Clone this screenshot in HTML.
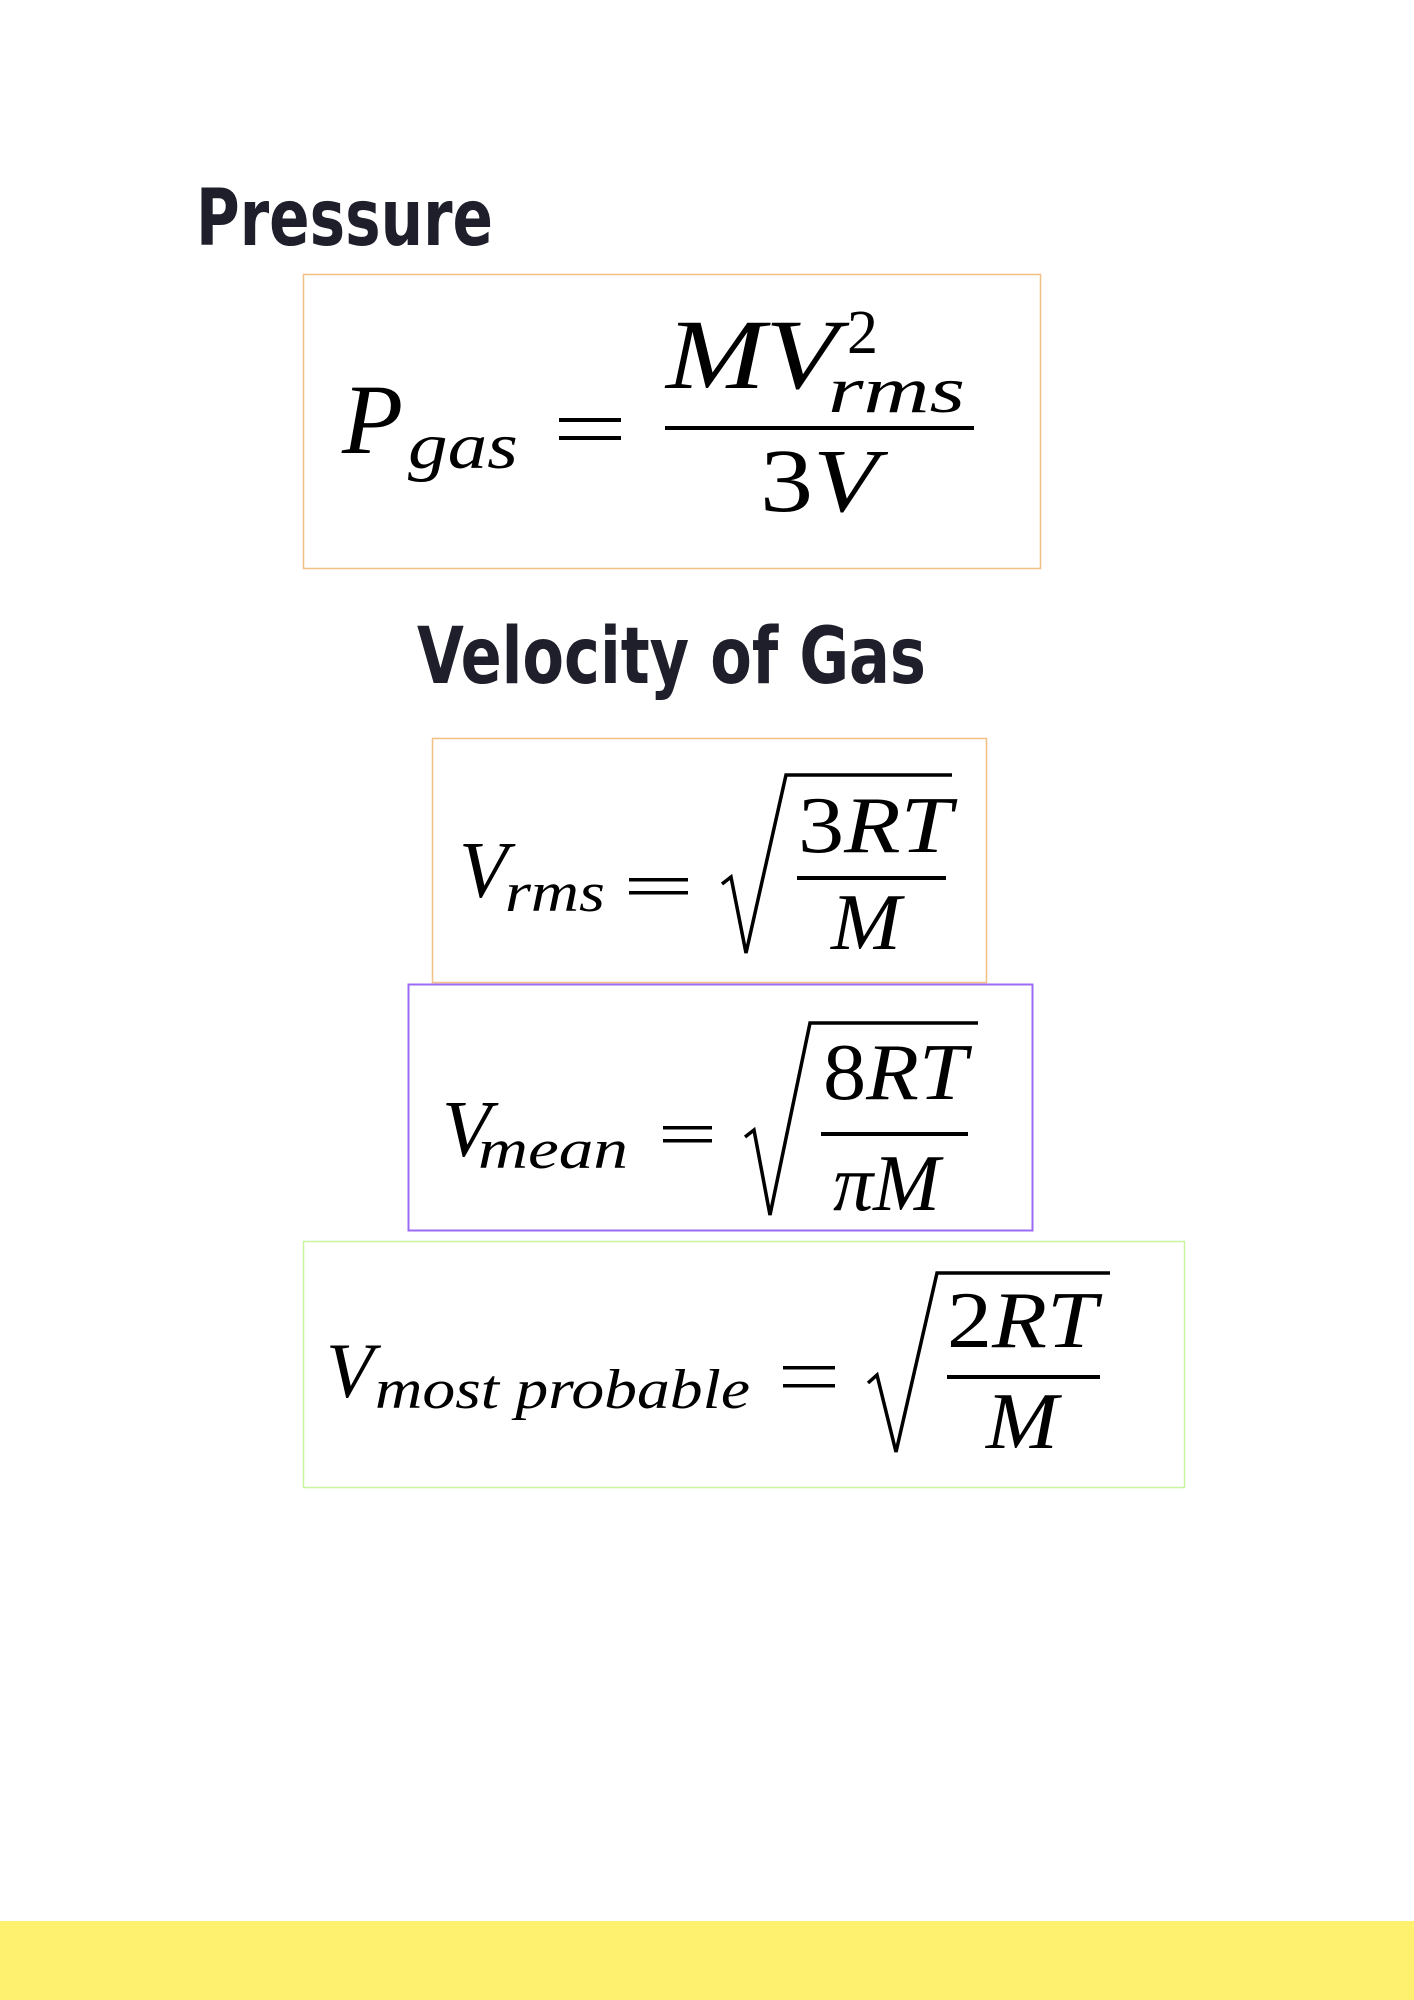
<!DOCTYPE html>
<html><head><meta charset="utf-8"><style>
html,body{margin:0;padding:0;background:#fff;}
svg{display:block;}
.t{font-family:"DejaVu Sans","Liberation Sans",sans-serif;font-weight:bold;fill:#1e1f2b;}
.m{font-family:"Liberation Serif",serif;font-style:italic;fill:#000;}
.n{font-family:"Liberation Serif",serif;fill:#000;}
</style></head><body>
<svg width="1414" height="2000" viewBox="0 0 1414 2000" xmlns="http://www.w3.org/2000/svg">
<rect x="0" y="0" width="1414" height="2000" fill="#fff"/>
<rect x="0" y="1921" width="1414" height="79" fill="#fff170"/>

<text class="t" x="196" y="245" font-size="78" textLength="297" lengthAdjust="spacingAndGlyphs">Pressure</text>
<text class="t" x="417" y="683" font-size="78" textLength="509" lengthAdjust="spacingAndGlyphs">Velocity of Gas</text>

<!-- Box 1 -->
<rect x="303.5" y="274.5" width="737" height="294" fill="#fff" stroke="#f2bf84" stroke-width="1.5"/>
<text class="m" x="342" y="453" font-size="100">P</text>
<text class="m" x="408" y="468" font-size="66" textLength="110" lengthAdjust="spacingAndGlyphs">gas</text>
<rect x="559" y="418" width="62" height="4" fill="#000"/>
<rect x="559" y="436" width="62" height="4" fill="#000"/>
<text class="m" x="666" y="388" font-size="100" textLength="172" lengthAdjust="spacingAndGlyphs">MV</text>
<text class="n" x="847" y="353" font-size="62">2</text>
<text class="m" x="828" y="412" font-size="66" textLength="137" lengthAdjust="spacingAndGlyphs">rms</text>
<rect x="665" y="426" width="309" height="4" fill="#000"/>
<text class="n" x="760" y="511" font-size="90" textLength="118" lengthAdjust="spacingAndGlyphs">3<tspan class="m">V</tspan></text>

<!-- Box 2 -->
<rect x="432.5" y="738.5" width="554" height="244" fill="#fff" stroke="#f2bf84" stroke-width="1.5"/>
<text class="m" x="459" y="897" font-size="80">V</text>
<text class="m" x="505" y="911" font-size="56" textLength="100" lengthAdjust="spacingAndGlyphs">rms</text>
<rect x="629" y="878" width="59" height="3.5" fill="#000"/>
<rect x="629" y="891" width="59" height="3.5" fill="#000"/>
<path d="M722,884 L731,877 L746,953 L786,775 L952,775" fill="none" stroke="#000" stroke-width="3.5" stroke-linejoin="miter"/>
<text class="n" x="798" y="852" font-size="80" textLength="154" lengthAdjust="spacingAndGlyphs">3<tspan class="m">RT</tspan></text>
<rect x="797" y="876" width="149" height="4" fill="#000"/>
<text class="m" x="831" y="949" font-size="80" textLength="70" lengthAdjust="spacingAndGlyphs">M</text>

<!-- Box 3 -->
<rect x="408.5" y="984.5" width="624" height="246" fill="#fff" stroke="#9b6bf5" stroke-width="2"/>
<text class="m" x="442" y="1156" font-size="80">V</text>
<text class="m" x="478" y="1168" font-size="56" textLength="150" lengthAdjust="spacingAndGlyphs">mean</text>
<rect x="663" y="1126" width="49" height="3.5" fill="#000"/>
<rect x="663" y="1139" width="49" height="3.5" fill="#000"/>
<path d="M745,1137 L754,1130 L770,1215 L810,1023 L978,1023" fill="none" stroke="#000" stroke-width="3.5"/>
<text class="n" x="823" y="1099" font-size="80" textLength="144" lengthAdjust="spacingAndGlyphs">8<tspan class="m">RT</tspan></text>
<rect x="821" y="1132" width="147" height="4" fill="#000"/>
<text class="m" x="833" y="1210" font-size="80" textLength="107" lengthAdjust="spacingAndGlyphs">πM</text>

<!-- Box 4 -->
<rect x="303.5" y="1241.5" width="881" height="246" fill="#fff" stroke="#c8f5a0" stroke-width="1.5"/>
<text class="m" x="326" y="1397" font-size="78">V</text>
<text class="m" x="375" y="1408" font-size="56" textLength="375" lengthAdjust="spacingAndGlyphs">most probable</text>
<rect x="783" y="1366" width="52" height="3.5" fill="#000"/>
<rect x="783" y="1384" width="52" height="3.5" fill="#000"/>
<path d="M868,1383 L877,1375 L896,1452 L937,1273 L1110,1273" fill="none" stroke="#000" stroke-width="3.5"/>
<text class="n" x="947" y="1347" font-size="80" textLength="150" lengthAdjust="spacingAndGlyphs">2<tspan class="m">RT</tspan></text>
<rect x="947" y="1375" width="153" height="4" fill="#000"/>
<text class="m" x="986" y="1448" font-size="80" textLength="72" lengthAdjust="spacingAndGlyphs">M</text>
</svg>
</body></html>
